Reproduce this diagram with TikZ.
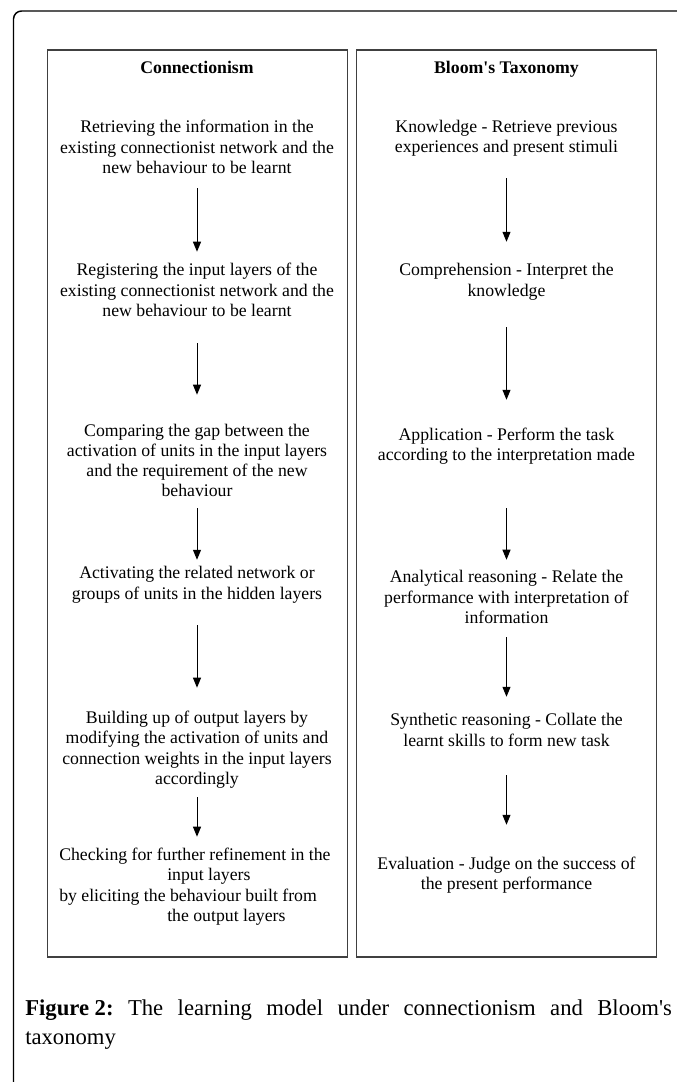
\documentclass[tikz,border=0pt]{standalone}
\usepackage{fontspec}
\setmainfont{Liberation Serif}[Ligatures=TeXOff]
\usetikzlibrary{arrows.meta,calc}
\frenchspacing
\begin{document}
\begin{tikzpicture}[x=0.75pt,y=-0.75pt,
  txt/.style={font=\fontsize{13.3pt}{15.2pt}\selectfont, align=center, inner sep=0pt, text=black},
  ttl/.style={font=\fontsize{13.3pt}{15.2pt}\selectfont\bfseries, inner sep=0pt, anchor=base},
  panel/.style={draw=black!75, line width=1pt, minimum width=225pt, minimum height=680.25pt, inner sep=0pt},
  arr/.style={-{Triangle[width=6pt,length=7.5pt]}, line width=0.75pt},
  outerframe/.style={draw=black, line width=1.1pt, rounded corners=6pt},
  captxt/.style={font=\fontsize{17pt}{20pt}\selectfont, inner sep=0pt, anchor=base west}]
\useasboundingbox (0,0) rectangle (677,1082);
% outer frame
\coordinate (fa) at (13.5,1082);
\coordinate (fb) at (13.5,11);
\coordinate (fc) at (677,11);
\draw[outerframe] (fa) -- (fb) -- (fc);
% panels
\node[panel] (boxL) at (197.5,503.5) {};
\node[panel] (boxR) at (506.5,503.5) {};
% titles
\node[ttl] (tL) at (197,73) {Connectionism};
\node[ttl] (tR) at (506.5,73) {Bloom's Taxonomy};
% left column
\node[txt] (L1) at (197,149) {\strut Retrieving the information in the\\\strut existing connectionist network and the\\\strut new behaviour to be learnt};
\node[txt] (L2) at (197,292) {\strut Registering the input layers of the\\\strut existing connectionist network and the\\\strut new behaviour to be learnt};
\node[txt] (L3) at (197,462.5) {\strut Comparing the gap between the\\\strut activation of units in the input layers\\\strut and the requirement of the new\\\strut behaviour};
\node[txt] (L4) at (197,585) {\strut Activating the related network or\\\strut groups of units in the hidden layers};
\node[txt] (L5) at (197,750) {\strut Building up of output layers by\\\strut modifying the activation of units and\\\strut connection weights in the input layers\\\strut accordingly};
\node[txt, align=left, anchor=west] (L6) at (59,887) {\strut Checking for further refinement in the\\\hspace*{81pt}\strut input layers\\\strut by eliciting the behaviour built from\\\hspace*{81pt}\strut the output layers};
% right column
\node[txt] (R1) at (506.5,138.5) {\strut Knowledge - Retrieve previous\\\strut experiences and present stimuli};
\node[txt] (R2) at (506.5,282) {\strut Comprehension - Interpret the\\\strut knowledge};
\node[txt] (R3) at (506.5,446.5) {\strut Application - Perform the task\\\strut according to the interpretation made};
\node[txt] (R4) at (506.5,599) {\strut Analytical reasoning - Relate the\\\strut performance with interpretation of\\\strut information};
\node[txt] (R5) at (506.5,732) {\strut Synthetic reasoning - Collate the\\\strut learnt skills to form new task};
\node[txt] (R6) at (506.5,875.5) {\strut Evaluation - Judge on the success of\\\strut the present performance};
% left arrows
\draw[arr] ($(L1.south)+(0,8.6)$) -- ($(L2.north)+(0,-9.6)$);
\draw[arr] ($(L2.south)+(0,20.6)$) -- ($(L3.north)+(0,-27)$);
\draw[arr] ($(L3.south)+(0,5)$) -- ($(L4.north)+(0,-4.7)$);
\draw[arr] ($(L4.south)+(0,19.7)$) -- ($(L5.north)+(0,-21.5)$);
\draw[arr] ($(L5.south)+(0,6.5)$) -- (L5.south |- {$(L6.north)+(0,-9.5)$});
% right arrows
\draw[arr] ($(R1.south)+(0,19.2)$) -- ($(R2.north)+(0,-19.7)$);
\draw[arr] ($(R2.south)+(0,24.7)$) -- ($(R3.north)+(0,-26.2)$);
\draw[arr] ($(R3.south)+(0,41.2)$) -- ($(R4.north)+(0,-8.6)$);
\draw[arr] ($(R4.south)+(0,7.6)$) -- ($(R5.north)+(0,-14.7)$);
\draw[arr] ($(R5.south)+(0,22.7)$) -- ($(R6.north)+(0,-30.2)$);
% caption
\node[captxt] (cap1) at (25,1015) {\frenchspacing\makebox[485pt][s]{\textbf{Figure\hspace{0.25em}2:} The learning model under connectionism and Bloom's}};
\node[captxt] (cap2) at (25,1044) {taxonomy};
\end{tikzpicture}
\end{document}
